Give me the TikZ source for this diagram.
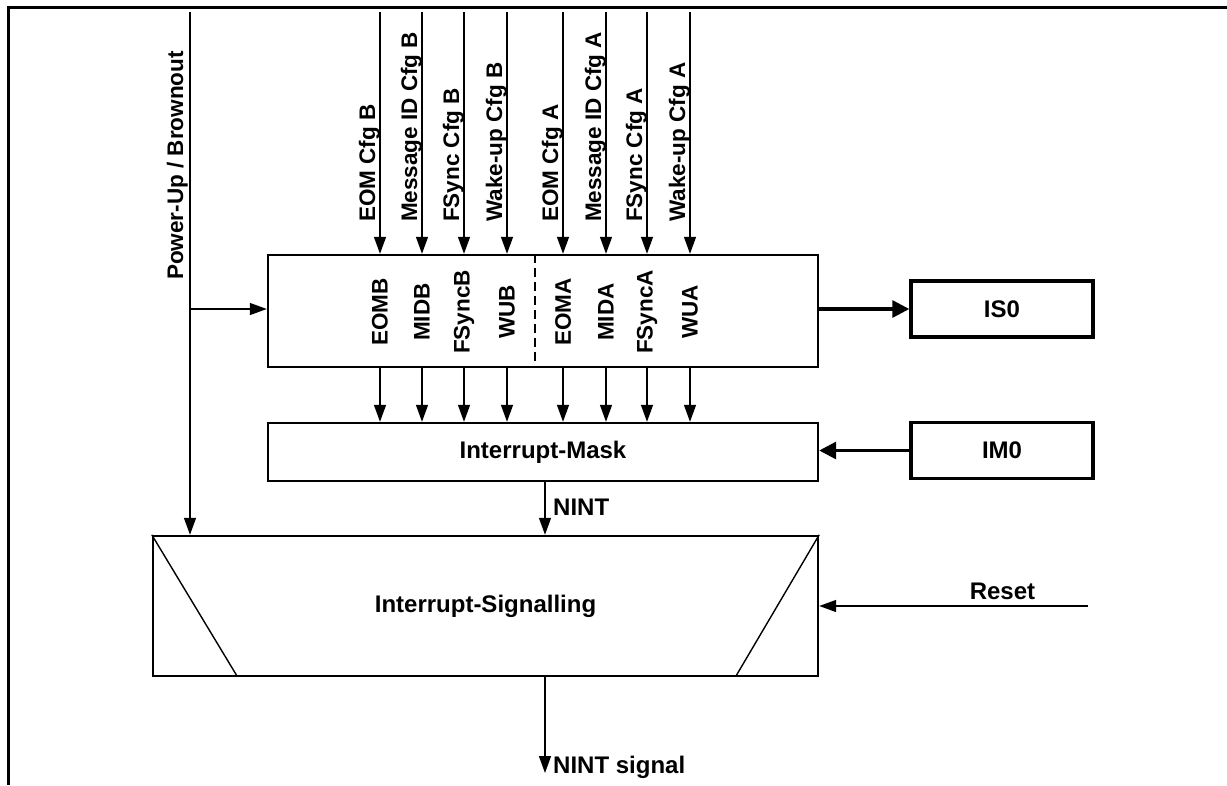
\documentclass[tikz,border=0pt]{standalone}
\usepackage{fontspec}
\setmainfont{Liberation Sans}
\usetikzlibrary{arrows.meta}
\begin{document}
\begin{tikzpicture}[x=1pt,y=-1pt,
  every node/.style={font=\fontsize{24}{28}\selectfont\bfseries, inner sep=0pt},
  rotfont/.style={font=\fontsize{22.5}{27}\selectfont\bfseries},
  wire/.style={line width=1.4pt},
  arr/.style={wire,-{Triangle[length=17pt,width=12pt]}},
  boldarr/.style={line width=3.2pt,-{Triangle[length=17pt,width=17pt]}},
  blk/.style={draw,line width=2.4pt,rectangle},
  reg/.style={draw,line width=3.4pt,minimum width=182pt,minimum height=56pt},
  vlab/.style={rotfont,rotate=90,anchor=base west},
  ilab/.style={rotfont,rotate=90}
]
\useasboundingbox (0,0) rectangle (1227,785);
\draw[line width=3pt] (1227,7) -- (8,7) -- (8,785);

\node[blk, minimum width=550pt, minimum height=112pt] (sb) at (543,311) {};
\node[blk, minimum width=550pt, minimum height=58pt] (im) at (543,452) {Interrupt-Mask};
\node[blk, minimum width=665pt, minimum height=140pt] (sig) at (485.5,606) {Interrupt-Signalling};
\node[reg] (is0) at (1002,309) {IS0};
\node[reg] (im0) at (1002,450.5) {IM0};

% diagonals of the signalling block
\coordinate (dl) at (237,676);
\coordinate (dr) at (736,676);
\draw[wire] (sig.north west) -- (dl);
\draw[wire] (sig.north east) -- (dr);

% dashed separator
\coordinate (dsh) at (535,0);
\draw[line width=2.4pt, dash pattern=on 9pt off 5pt] (dsh |- sb.north) -- (dsh |- sb.south);

% columns
\foreach \cx/\ta/\tb in {380/EOM Cfg B/EOMB, 422/Message ID Cfg B/MIDB, 464/FSync Cfg B/FSyncB, 507/Wake-up Cfg B/WUB, 563/EOM Cfg A/EOMA, 606/Message ID Cfg A/MIDA, 647/FSync Cfg A/FSyncA, 690/Wake-up Cfg A/WUA} {
  \coordinate (c\cx) at (\cx,12);
  \draw[arr] (c\cx) -- (c\cx |- sb.north);
  \node[vlab] (t\cx) at (\cx-5,222) {\ta};
  \node[ilab] (b\cx) at (\cx,312) {\tb};
  \draw[arr] (c\cx |- sb.south) -- (c\cx |- im.north);
}

% power-up / brownout
\coordinate (pu) at (190,12);
\draw[arr] (pu) -- (pu |- sig.north);
\node[vlab] (pul) at (183,280) {Power-Up / Brownout};
\coordinate (pb) at (190,309);
\draw[arr] (pb) -- (pb -| sb.west);

% registers
\draw[boldarr] (sb.east |- is0.west) -- (is0.west);
\draw[boldarr] (im0.west) -- (im0.west -| im.east);

% NINT
\coordinate (nx) at (545,0);
\draw[arr] (nx |- im.south) -- (nx |- sig.north);
\node[anchor=base west] (nint) at (553,515) {NINT};

% NINT signal
\coordinate (ns) at (545,773);
\draw[arr] (ns |- sig.south) -- (ns);
\node[anchor=base west] (nsig) at (553,773) {NINT signal};

% Reset
\coordinate (rs) at (1088,606);
\draw[arr] (rs) -- (sig.east);
\node[anchor=base] (rst) at (1002.5,599) {Reset};
\end{tikzpicture}
\end{document}
